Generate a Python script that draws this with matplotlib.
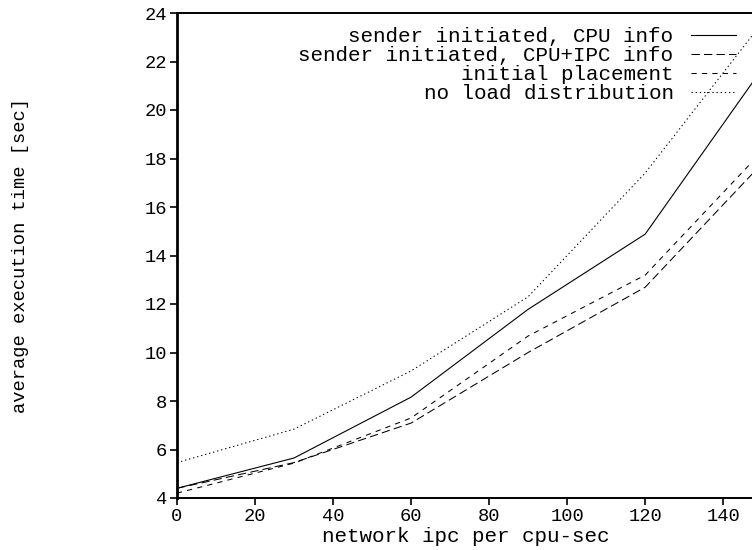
import matplotlib
matplotlib.use("Agg")
import matplotlib.pyplot as plt

x = [0, 30, 60, 90, 120, 150]
cpu_info = [4.4, 5.65, 8.16, 11.78, 14.88, 21.7]
cpu_ipc_info = [4.4, 5.46, 7.09, 10.0, 12.69, 17.8]
initial_placement = [4.2, 5.44, 7.3, 10.68, 13.19, 18.3]
no_load_dist = [5.46, 6.84, 9.24, 12.3, 17.4, 23.6]

labels = ["sender initiated, CPU info", "sender initiated, CPU+IPC info",
          "initial placement", "no load distribution"]
xticks = [0, 20, 40, 60, 80, 100, 120, 140]
yticks = [4, 6, 8, 10, 12, 14, 16, 18, 20, 22, 24]

plt.rcParams['font.family'] = ['Liberation Mono', 'DejaVu Sans Mono']
plt.rcParams['font.size'] = 13.5

W, H = 752, 550
fig = plt.figure(figsize=(W / 100, H / 100), dpi=100)
ax_left, ax_bottom, ax_top, ax_w = 177, 498, 13, 577
ax_h = ax_bottom - ax_top
ax = fig.add_axes([ax_left / W, 1 - ax_bottom / H, ax_w / W, ax_h / H])

ax.plot(x, cpu_info, color='black', lw=0.8, ls='-', label=labels[0])
ax.plot(x, cpu_ipc_info, color='black', lw=0.75, ls=(0, (8, 4)), label=labels[1])
ax.plot(x, initial_placement, color='black', lw=0.75, ls=(0, (5, 5)), label=labels[2])
ax.plot(x, no_load_dist, color='black', lw=0.75, ls=(0, (1.3, 2.7)), label=labels[3])

ax.set_xlim(0, 147.9)
ax.set_ylim(4, 24)
ax.set_xticks(xticks)
ax.set_yticks(yticks)
ax.tick_params(direction='out', length=5, width=1.2, top=False, right=False, pad=2)
ax.spines['left'].set_linewidth(2.0)
ax.spines['bottom'].set_linewidth(1.4)
ax.spines['top'].set_linewidth(1.4)
ax.spines['right'].set_linewidth(1.4)

ax.set_xlabel("network ipc per cpu-sec", labelpad=0, va='top', fontsize=15)
ax.xaxis.set_label_coords(0.5, -(527 - ax_bottom) / ax_h)
ax.set_ylabel("average execution time [sec]", va='center')
ax.yaxis.set_label_coords((21 - ax_left) / ax_w, 0.5)

leg = ax.legend(loc='upper right', bbox_to_anchor=((736 - ax_left) / ax_w, (ax_bottom - 27) / ax_h),
                frameon=False, markerfirst=False, handlelength=2.15, handletextpad=0.85,
                labelspacing=0.0, borderaxespad=0, borderpad=0, fontsize=15)

fig.savefig("out.png", dpi=100)
